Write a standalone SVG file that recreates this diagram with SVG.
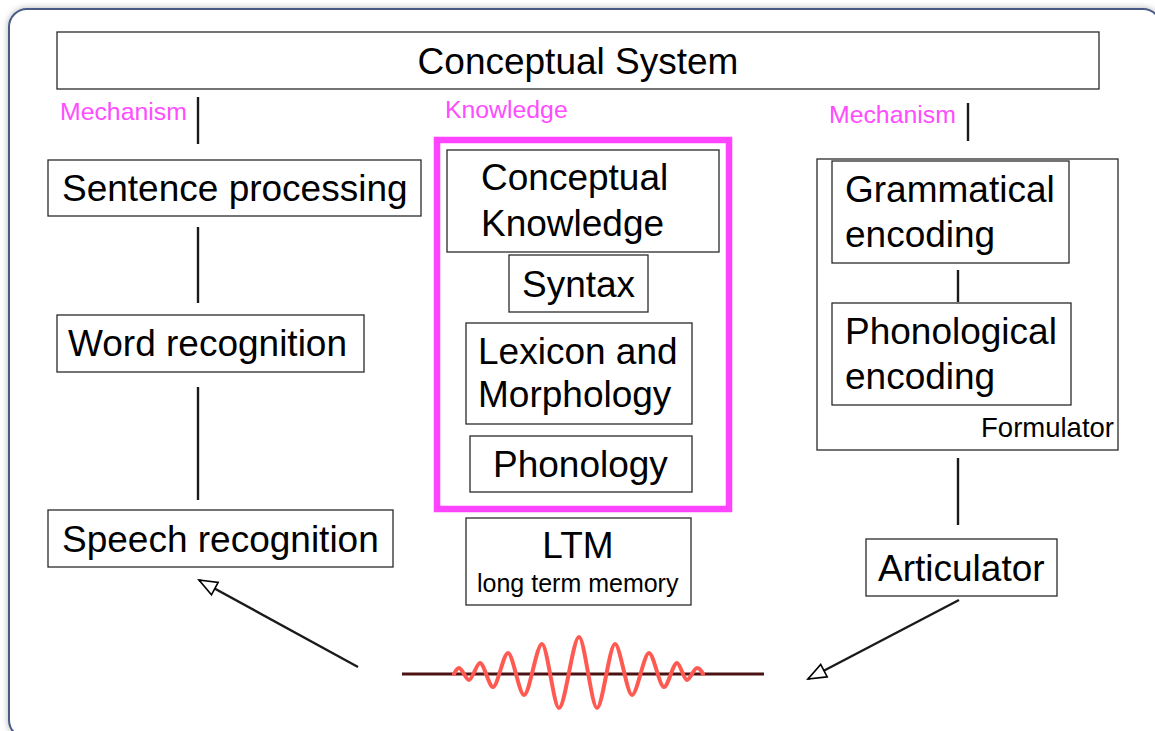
<svg xmlns="http://www.w3.org/2000/svg" width="1155" height="731" viewBox="0 0 1155 731">
  <style>
    .box { fill: #ffffff; stroke: #2a2a2a; stroke-width: 1.3; }
    .lbl { font-family: "Liberation Sans", Arial, sans-serif; font-size: 37px; fill: #000000; }
    .small { font-family: "Liberation Sans", Arial, sans-serif; font-size: 25px; fill: #000000; }
    .tag { font-family: "Liberation Sans", Arial, sans-serif; font-size: 24.8px; fill: #ff4cff; }
    .link { stroke: #1a1a1a; stroke-width: 2.4; fill: none; }
  </style>
  <defs>
    <filter id="frameShadow" x="-5%" y="-5%" width="110%" height="110%">
      <feDropShadow dx="0" dy="0" stdDeviation="3" flood-color="#000000" flood-opacity="0.3"/>
    </filter>
    <marker id="openHead" markerUnits="userSpaceOnUse" markerWidth="24" markerHeight="20" viewBox="0 0 24 20" refX="21" refY="10" orient="auto">
      <path d="M3,3 L21,10 L3,17 Z" fill="#ffffff" stroke="#000000" stroke-width="1.6" stroke-linejoin="miter"/>
    </marker>
  </defs>

  <!-- page background and rounded frame -->
  <rect x="0" y="0" width="1155" height="731" fill="#ffffff"/>
  <rect x="9" y="9" width="1152" height="729" rx="18" ry="18" fill="#ffffff" stroke="#4a5a85" stroke-width="2" filter="url(#frameShadow)"/>

  <!-- top level -->
  <g id="conceptual-system">
    <rect class="box" x="57" y="32" width="1042" height="57"/>
    <text class="lbl" x="578" y="74" text-anchor="middle">Conceptual System</text>
  </g>

  <!-- column headings -->
  <g id="heading-mechanism-left">
    <text class="tag" x="60" y="120">Mechanism</text>
  </g>
  <g id="heading-knowledge">
    <text class="tag" x="445" y="118">Knowledge</text>
  </g>
  <g id="heading-mechanism-right">
    <text class="tag" x="829" y="123">Mechanism</text>
  </g>

  <!-- comprehension side -->
  <g id="sentence-processing">
    <rect class="box" x="48" y="160" width="373" height="56"/>
    <text class="lbl" x="62" y="201">Sentence processing</text>
  </g>
  <g id="word-recognition">
    <rect class="box" x="57" y="315" width="307" height="57"/>
    <text class="lbl" x="68" y="356">Word recognition</text>
  </g>
  <g id="speech-recognition">
    <rect class="box" x="48" y="510" width="345" height="57"/>
    <text class="lbl" x="62" y="552">Speech recognition</text>
  </g>

  <!-- knowledge store -->
  <g id="knowledge-store">
    <rect x="437" y="140" width="292" height="369" fill="none" stroke="#ff44ff" stroke-width="6.5"/>
  </g>
  <g id="conceptual-knowledge">
    <rect class="box" x="447" y="150" width="272" height="102"/>
    <text class="lbl" x="481" y="190">Conceptual</text>
    <text class="lbl" x="481" y="236">Knowledge</text>
  </g>
  <g id="syntax">
    <rect class="box" x="509" y="255" width="139" height="57"/>
    <text class="lbl" x="522" y="297">Syntax</text>
  </g>
  <g id="lexicon-morphology">
    <rect class="box" x="466" y="323" width="226" height="101"/>
    <text class="lbl" x="478" y="364">Lexicon and</text>
    <text class="lbl" x="478" y="407">Morphology</text>
  </g>
  <g id="phonology">
    <rect class="box" x="470" y="436" width="222" height="56"/>
    <text class="lbl" x="493" y="477">Phonology</text>
  </g>
  <g id="ltm">
    <rect class="box" x="466" y="518" width="225" height="87"/>
    <text class="lbl" x="578" y="558" text-anchor="middle">LTM</text>
    <text class="small" x="477" y="592">long term memory</text>
  </g>

  <!-- production side -->
  <g id="formulator">
    <rect class="box" x="817" y="159" width="301" height="291"/>
    <text class="lbl" x="1114" y="437" text-anchor="end" style="font-size:27.5px">Formulator</text>
  </g>
  <g id="grammatical-encoding">
    <rect class="box" x="832" y="161" width="237" height="102"/>
    <text class="lbl" x="845" y="202">Grammatical</text>
    <text class="lbl" x="845" y="247">encoding</text>
  </g>
  <g id="phonological-encoding">
    <rect class="box" x="832" y="303" width="239" height="102"/>
    <text class="lbl" x="845" y="344">Phonological</text>
    <text class="lbl" x="845" y="389">encoding</text>
  </g>
  <g id="articulator">
    <rect class="box" x="866" y="539" width="191" height="57"/>
    <text class="lbl" x="878" y="581">Articulator</text>
  </g>

  <!-- sound wave -->
  <g id="sound-wave">
    <line x1="402" y1="674" x2="764" y2="674" stroke="#4a1212" stroke-width="3"/>
    <path d="M454,674 C455.5,671 457.5,668 459,668 C462,668 466,680 469,680 C472.3,680 476.7,663 480,663 C483.9,663 489.1,687 493,687 C497.5,687 503.5,653 508,653 C512.8,653 519.2,695 524,695 C529.4,695 536.6,644 542,644 C547.1,644 553.9,708 559,708 C565,708 573,637 579,637 C584.4,637 591.6,708 597,708 C602.4,708 609.6,644 615,644 C620.1,644 626.9,695 632,695 C637.1,695 643.9,653 649,653 C653.5,653 659.5,687 664,687 C667.9,687 673.1,663 677,663 C680,663 684,680 687,680 C690,680 694,668 697,668 C699,668 701.5,671 703,674" fill="none" stroke="#ff5a52" stroke-width="4" stroke-linecap="round" stroke-linejoin="round"/>
  </g>

  <!-- connectors, drawn last so they sit above the boxes -->
  <g id="connectors">
    <line class="link" x1="198" y1="97" x2="198" y2="144"/>
    <line class="link" x1="198" y1="227" x2="198" y2="303"/>
    <line class="link" x1="198" y1="387" x2="198" y2="500"/>
    <line class="link" x1="968" y1="103" x2="968" y2="141"/>
    <line class="link" x1="958" y1="270" x2="958" y2="302"/>
    <line class="link" x1="958" y1="458" x2="958" y2="525"/>
    <line class="link" x1="358" y1="667" x2="199" y2="580" marker-end="url(#openHead)"/>
    <line class="link" x1="959" y1="600" x2="808" y2="679" marker-end="url(#openHead)"/>
  </g>
</svg>
